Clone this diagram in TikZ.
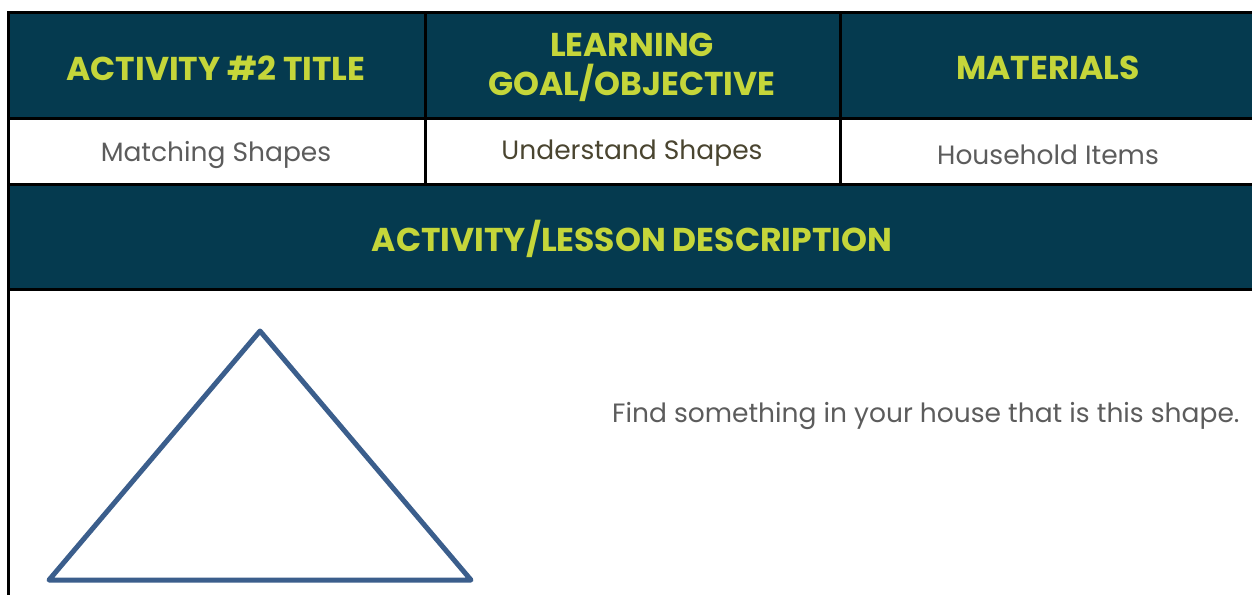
\documentclass[tikz,border=0pt]{standalone}
\usepackage{fontspec}
\setmainfont{Poppins}
\usetikzlibrary{positioning}
\definecolor{navy}{HTML}{053A4F}
\definecolor{lime}{HTML}{C5D63A}
\definecolor{cellgray}{HTML}{5C5C5C}
\definecolor{olive}{HTML}{4A4530}
\definecolor{shapeblue}{HTML}{3B5E8C}

\begin{document}
\begin{tikzpicture}[x=1pt,y=-1pt]
    \tikzset{
        head/.style={text=lime, font=\bfseries\fontsize{33}{39}\selectfont, align=center, inner sep=0pt},
        cell/.style={text=cellgray, font=\fontsize{26.5}{30}\selectfont, inner sep=0pt},
        rule/.style={draw=black, line width=3pt},
    };
    \useasboundingbox (0,0) rectangle (1252,595);
    \fill [navy] (8,12) rectangle (1252,118);
    \fill [navy] (8,184) rectangle (1252,289);

    \node [head] (title) at (216,68) {ACTIVITY \#2 TITLE};
    \node [head] (goal) at (632,67) {LEARNING\\GOAL/OBJECTIVE};
    \node [head] (materials) at (1048,68) {MATERIALS};
    \node [cell] (matching) at (216,155) {Matching Shapes};
    \node [cell,text=olive] (understand) at (632,153) {Understand Shapes};
    \node [cell] (household) at (1048,155) {Household Items};
    \node [head] (description) at (632,239) {ACTIVITY/LESSON DESCRIPTION};
    \node [cell,anchor=west] (find) at (612,416) {Find something in your house that is this shape.};

    \draw [rule] (1252,12) -- (8,12) -- (8,595);
    \draw [rule] (8,118) -- (1252,118);
    \draw [rule] (8,184) -- (1252,184);
    \draw [rule] (8,289) -- (1252,289);
    \draw [rule] (425,12) -- (425,186);
    \draw [rule] (840,12) -- (840,186);

    \draw [shapeblue, line width=5pt, line join=round] (260,331) -- (471,580) -- (49,580) -- cycle;
\end{tikzpicture}
\end{document}
